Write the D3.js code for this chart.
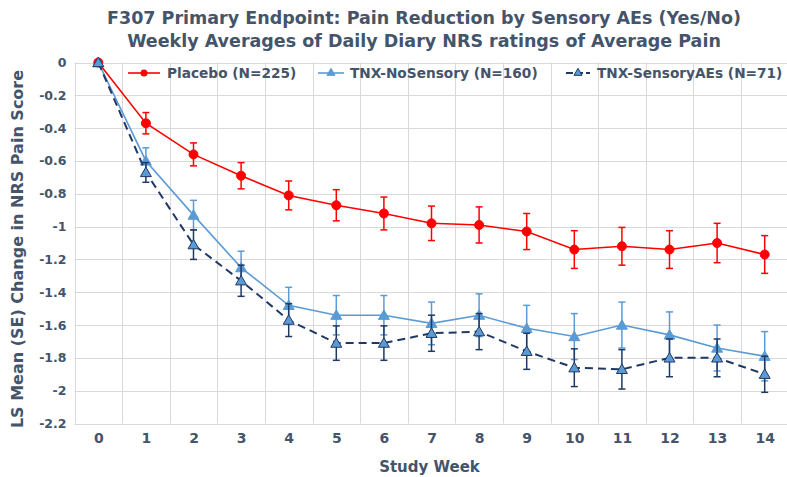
<!DOCTYPE html>
<html>
<head>
<meta charset="utf-8">
<script src="https://cdn.jsdelivr.net/npm/d3@7/dist/d3.min.js"></script>
<style>
  html, body { margin: 0; padding: 0; background: #ffffff; }
  svg { display: block; }
  text { font-family: "DejaVu Sans", Verdana, sans-serif; font-weight: bold; fill: #44546A; }
</style>
</head>
<body>
<svg id="chart" width="787" height="477"></svg>
<script>
// Study weeks (x categories)
const weeks = [0, 1, 2, 3, 4, 5, 6, 7, 8, 9, 10, 11, 12, 13, 14];

// LS mean change from baseline, by arm
const placebo    = [0, -0.37, -0.56, -0.69, -0.81, -0.87, -0.92, -0.98, -0.99, -1.03, -1.14, -1.12, -1.14, -1.10, -1.17];
const noSensory  = [0, -0.60, -0.93, -1.25, -1.48, -1.54, -1.54, -1.59, -1.54, -1.62, -1.67, -1.60, -1.66, -1.74, -1.79];
const sensoryAEs = [0, -0.67, -1.11, -1.33, -1.57, -1.71, -1.71, -1.65, -1.64, -1.76, -1.86, -1.87, -1.80, -1.80, -1.90];

// Standard errors
const placeboSE    = [0, 0.065, 0.07, 0.08, 0.088, 0.095, 0.10, 0.105, 0.11, 0.11, 0.115, 0.115, 0.115, 0.12, 0.115];
const noSensorySE  = [0, 0.08, 0.09, 0.10, 0.11, 0.12, 0.12, 0.13, 0.13, 0.14, 0.14, 0.14, 0.14, 0.14, 0.15];
const sensoryAEsSE = [0, 0.06, 0.09, 0.095, 0.10, 0.105, 0.105, 0.11, 0.11, 0.11, 0.115, 0.12, 0.115, 0.115, 0.11];

// Y axis tick values
const yTicks = [0, -0.2, -0.4, -0.6, -0.8, -1, -1.2, -1.4, -1.6, -1.8, -2, -2.2];

const titleLines = [
  "F307 Primary Endpoint: Pain Reduction by Sensory AEs (Yes/No)",
  "Weekly Averages of Daily Diary NRS ratings of Average Pain"
];

const series = [
  { name: "Placebo (N=225)",        values: placebo,    se: placeboSE,    color: "#FF0000", marker: "circle",   fill: "#FF0000", stroke: "#FF0000", dash: null },
  { name: "TNX-NoSensory (N=160)",  values: noSensory,  se: noSensorySE,  color: "#5B9BD5", marker: "triangle", fill: "#5B9BD5", stroke: "#5B9BD5", dash: null },
  { name: "TNX-SensoryAEs (N=71)",  values: sensoryAEs, se: sensoryAEsSE, color: "#1F3864", marker: "triangle", fill: "#5B9BD5", stroke: "#1F3864", dash: "8,5" }
];

const svg = d3.select("#chart");
const plot = { left: 74.5, top: 62.5, right: 788.5, bottom: 423.5 };

const x = d3.scalePoint().domain(weeks).range([plot.left, plot.right]).padding(0.5);
const y = d3.scaleLinear().domain([-2.2, 0]).range([plot.bottom, plot.top]);
const step = x.step();

// Grid: horizontal lines at each tick, vertical lines between categories
const grid = svg.append("g").attr("stroke", "#D9D9D9").attr("stroke-width", 1);
yTicks.forEach(t => {
  grid.append("line").attr("x1", plot.left).attr("x2", plot.right)
    .attr("y1", Math.round(y(t)) + 0.5).attr("y2", Math.round(y(t)) + 0.5);
});
for (let i = 0; i <= weeks.length; i++) {
  const gx = Math.round(plot.left + i * step) + 0.5;
  grid.append("line").attr("x1", gx).attr("x2", gx).attr("y1", plot.top).attr("y2", plot.bottom);
}

// Y axis labels
const yAxis = d3.axisLeft(y).tickValues(yTicks).tickSize(0).tickPadding(8)
  .tickFormat(d => String(+d.toFixed(1)));
const yg = svg.append("g").attr("transform", `translate(${plot.left},0)`).call(yAxis);
yg.select(".domain").remove();
yg.selectAll("text").style("font-size", "12.5px").attr("fill", "#44546A");

// X axis labels
const xAxis = d3.axisBottom(x).tickSize(0).tickPadding(10);
const xg = svg.append("g").attr("transform", `translate(0,${plot.bottom})`).call(xAxis);
xg.select(".domain").remove();
xg.selectAll("text").style("font-size", "14px").attr("fill", "#44546A");

// Axis titles
svg.append("text").attr("x", (plot.left + plot.right) / 2 - 2).attr("y", 472)
  .attr("text-anchor", "middle").style("font-size", "15px").text("Study Week");
svg.append("text").attr("transform", `translate(23,249) rotate(-90)`)
  .attr("text-anchor", "middle").style("font-size", "16px").text("LS Mean (SE) Change in NRS Pain Score");

// Title
svg.append("g").selectAll("text").data(titleLines).join("text")
  .attr("x", 424).attr("y", (d, i) => 24 + i * 23)
  .attr("text-anchor", "middle").style("font-size", "17.5px").text(d => d);

const tri = d3.symbol().type(d3.symbolTriangle).size(52);

// Series: error bars, line, markers
series.forEach(s => {
  const g = svg.append("g");
  const pts = weeks.map((w, i) => ({ w, v: s.values[i], e: s.se[i] }));

  // error bars
  pts.filter(p => p.e > 0).forEach(p => {
    const cx = x(p.w);
    g.append("line").attr("x1", cx).attr("x2", cx).attr("y1", y(p.v + p.e)).attr("y2", y(p.v - p.e))
      .attr("stroke", s.color).attr("stroke-width", 1.5);
    [p.v + p.e, p.v - p.e].forEach(v => {
      g.append("line").attr("x1", cx - 3.5).attr("x2", cx + 3.5).attr("y1", y(v)).attr("y2", y(v))
        .attr("stroke", s.color).attr("stroke-width", 1.5);
    });
  });

  const line = d3.line().x(p => x(p.w)).y(p => y(p.v));
  g.append("path").datum(pts).attr("d", line).attr("fill", "none")
    .attr("stroke", s.color).attr("stroke-width", s.dash ? 2 : 1.6)
    .attr("stroke-dasharray", s.dash);

  if (s.marker === "circle") {
    g.selectAll("circle").data(pts).join("circle")
      .attr("cx", p => x(p.w)).attr("cy", p => y(p.v)).attr("r", 4.5)
      .attr("fill", s.fill).attr("stroke", s.stroke);
  } else {
    g.selectAll("path.m").data(pts).join("path").attr("class", "m")
      .attr("d", tri).attr("transform", p => `translate(${x(p.w)},${y(p.v) + 1})`)
      .attr("fill", s.fill).attr("stroke", s.stroke).attr("stroke-width", 1);
  }
});

// Legend
const legendItems = [
  { s: series[0], x0: 128, x1: 160, tx: 167 },
  { s: series[1], x0: 318, x1: 344, tx: 350 },
  { s: series[2], x0: 566, x1: 590, tx: 597 }
];
const lg = svg.append("g");
const ly = 73;
legendItems.forEach(it => {
  const s = it.s;
  lg.append("line").attr("x1", it.x0).attr("x2", it.x1).attr("y1", ly).attr("y2", ly)
    .attr("stroke", s.color).attr("stroke-width", s.dash ? 2 : 1.6).attr("stroke-dasharray", s.dash ? "7,3" : null);
  const mx = (it.x0 + it.x1) / 2;
  if (s.marker === "circle") {
    lg.append("circle").attr("cx", mx).attr("cy", ly).attr("r", 3.5).attr("fill", s.fill);
  } else {
    lg.append("path").attr("d", d3.symbol().type(d3.symbolTriangle).size(28))
      .attr("transform", `translate(${mx},${ly})`).attr("fill", s.fill).attr("stroke", s.stroke);
  }
  lg.append("text").attr("x", it.tx).attr("y", ly).attr("dy", "0.35em")
    .style("font-size", "13.7px").text(s.name);
});
</script>
</body>
</html>
